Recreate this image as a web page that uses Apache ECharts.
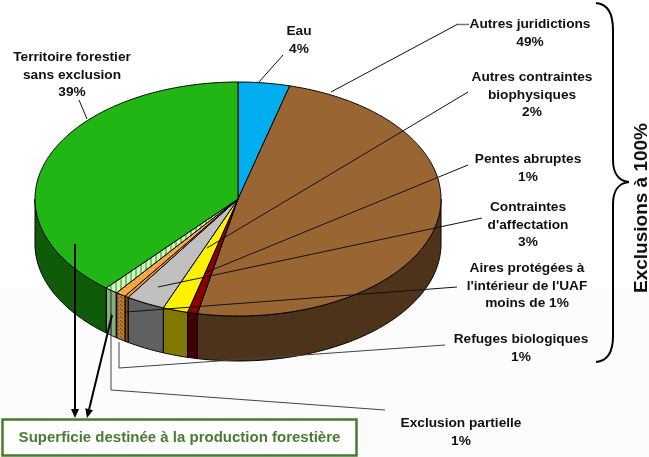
<!DOCTYPE html>
<html>
<head>
<meta charset="utf-8">
<script src="https://cdn.jsdelivr.net/npm/echarts@6/dist/echarts.min.js"></script>
<style>
  html, body { margin: 0; padding: 0; background: #fff; }
  #chart { width: 649px; height: 457px; }
</style>
</head>
<body>
<div id="chart"></div>
<script>
// slices run clockwise from 12 o'clock
var sliceNames = ['Eau', 'Autres juridictions', 'Pentes abruptes', 'Autres contraintes biophysiques',
  "Contraintes d'affectation", "Aires protégées à l'intérieur de l'UAF", 'Refuges biologiques',
  'Exclusion partielle', 'Territoire forestier sans exclusion'];
var sliceValues = [4.1, 49.1, 0.8, 2, 3.1, 0.3, 0.8, 1.05, 38.75];

var topColors = ['#00ADEF', '#996633', '#8B0000', '#FFF200', '#C0C0C0', '#FF9933', 'hatchTop', 'stripeTop', '#21B614'];
var sideColors = ['#005A7A', '#4D3319', '#450000', '#807900', '#606060', '#804C19', 'hatchSide', 'stripeSide', '#105B0A'];

var labelTexts = [
  'Eau\n4%',
  'Autres juridictions\n49%',
  'Autres contraintes\nbiophysiques\n2%',
  'Pentes abruptes\n1%',
  "Contraintes\nd'affectation\n3%",
  "Aires protégées à\nl'intérieur de l'UAF\nmoins de 1%",
  'Refuges biologiques\n1%',
  'Exclusion partielle\n1%',
  'Territoire forestier\nsans exclusion\n39%'
];
var labelCenters = [[299, 40], [530, 33], [532, 95], [528, 168], [528, 225], [527, 286], [521, 348], [461, 432], [72, 75]];

var leaderLines = [
  [[283, 55], [259, 82]],
  [[458, 24], [331, 92]],
  [[468, 92], [207, 248]],
  [[468, 165], [207, 272]],
  [[482, 218], [158, 287]],
  [[457, 287], [126, 312]],
  [[79, 100], [87, 119]]
];
var greyLines = [
  [[445, 345], [119, 368], [119, 342]],
  [[385, 410], [111, 390], [111, 313]]
];
var arrowLines = [[[75, 244], [75, 418]], [[112, 315], [87, 418]]];

var boxText = 'Superficie destinée à la production forestière';
var braceText = 'Exclusions à 100%';

var DEPTH = 45;

function makePattern(draw, w, h) {
  var c = document.createElement('canvas');
  c.width = w;
  c.height = h;
  draw(c.getContext('2d'));
  return { image: c, repeat: 'repeat' };
}

function stripes(a, b) {
  return makePattern(function (ctx) {
    ctx.fillStyle = a;
    ctx.fillRect(0, 0, 5, 4);
    ctx.fillStyle = b;
    ctx.fillRect(2, 0, 3, 4);
  }, 5, 4);
}

function hatch(bg, dot) {
  return makePattern(function (ctx) {
    ctx.fillStyle = bg;
    ctx.fillRect(0, 0, 4, 4);
    ctx.fillStyle = dot;
    ctx.fillRect(0, 0, 1, 1);
    ctx.fillRect(2, 2, 1, 1);
    ctx.fillRect(1, 1, 1, 1);
  }, 4, 4);
}

var patterns = {
  stripeTop: stripes('#6FCF5A', '#D8F2CC'),
  stripeSide: stripes('#3F7A3A', '#8FA98A'),
  hatchTop: hatch('#FF9F33', '#FFD08A'),
  hatchSide: hatch('#B97A33', '#6E4A22')
};

function fillOf(name) {
  return patterns[name] || name;
}

// cumulated start / end of every slice
var sliceData = [];
var total = 0;
var i;
for (i = 0; i < sliceValues.length; i++) {
  sliceData.push([total, total + sliceValues[i], sliceNames[i]]);
  total += sliceValues[i];
}

function arcPoints(api, from, to, dy) {
  var pts = [];
  var n = Math.max(2, Math.ceil((to - from) / 0.5));
  for (var k = 0; k <= n; k++) {
    var t = (from + (to - from) * k / n) * Math.PI / 180;
    var p = api.coord([Math.sin(t), Math.cos(t)]);
    pts.push([p[0], p[1] + dy]);
  }
  return pts;
}

function renderSlice(params, api) {
  var start = api.value(0) * 3.6;
  var end = api.value(1) * 3.6;
  var idx = params.dataIndex;
  var children = [];

  // wall only where the slice faces the viewer
  var a = Math.max(start, 90);
  var b = Math.min(end, 270);
  if (b > a) {
    var upper = arcPoints(api, a, b, 0);
    var lower = arcPoints(api, a, b, DEPTH).reverse();
    children.push({
      type: 'polygon',
      shape: { points: upper.concat(lower) },
      style: { fill: fillOf(sideColors[idx]), stroke: '#000', lineWidth: 1 }
    });
  }

  var top = [api.coord([0, 0])].concat(arcPoints(api, start, end, 0));
  children.push({
    type: 'polygon',
    shape: { points: top },
    style: { fill: fillOf(topColors[idx]), stroke: '#000', lineWidth: 1 }
  });
  return { type: 'group', children: children };
}

var elements = [];
elements.push({
  type: 'rect', z: -1, silent: true,
  shape: { x: 0, y: 288, width: 649, height: 169 },
  style: { fill: '#FCFCFC' }
});

leaderLines.forEach(function (pts) {
  elements.push({
    type: 'polyline', z: 5,
    shape: { points: pts },
    style: { fill: null, stroke: '#111', lineWidth: 1 }
  });
});
greyLines.forEach(function (pts) {
  elements.push({
    type: 'polyline', z: 5,
    shape: { points: pts },
    style: { fill: null, stroke: '#444', lineWidth: 1 }
  });
});
// short thick stub before "Autres juridictions"
elements.push({
  type: 'line', z: 5,
  shape: { x1: 458, y1: 24.5, x2: 469, y2: 24.5 },
  style: { stroke: '#777', lineWidth: 1.5 }
});

arrowLines.forEach(function (pts) {
  var p0 = pts[0], p1 = pts[1];
  var ang = Math.atan2(p1[1] - p0[1], p1[0] - p0[0]);
  var len = 9, wid = 4;
  var bx = p1[0] - len * Math.cos(ang), by = p1[1] - len * Math.sin(ang);
  elements.push({
    type: 'line', z: 6,
    shape: { x1: p0[0], y1: p0[1], x2: bx, y2: by },
    style: { stroke: '#000', lineWidth: 2 }
  });
  elements.push({
    type: 'polygon', z: 6,
    shape: { points: [p1,
      [bx - wid * Math.sin(ang), by + wid * Math.cos(ang)],
      [bx + wid * Math.sin(ang), by - wid * Math.cos(ang)]] },
    style: { fill: '#000' }
  });
});

labelTexts.forEach(function (txt, n) {
  elements.push({
    type: 'text', z: 7,
    x: labelCenters[n][0], y: labelCenters[n][1],
    style: {
      text: txt, align: 'center', verticalAlign: 'middle',
      font: 'bold 13.7px "Liberation Sans"', lineHeight: 17.5, fill: '#111'
    }
  });
});

// big curly brace
function braceCurve(x1, y1, c1x, c1y, c2x, c2y, x2, y2) {
  elements.push({
    type: 'bezierCurve', z: 5,
    shape: { x1: x1, y1: y1, cpx1: c1x, cpy1: c1y, cpx2: c2x, cpy2: c2y, x2: x2, y2: y2 },
    style: { fill: null, stroke: '#000', lineWidth: 2 }
  });
}
function braceLine(y1, y2) {
  elements.push({
    type: 'line', z: 5,
    shape: { x1: 613, y1: y1, x2: 613, y2: y2 },
    style: { stroke: '#000', lineWidth: 2 }
  });
}
braceCurve(596, 3, 608, 4, 613, 14, 613, 30);
braceLine(30, 160);
braceCurve(613, 160, 613, 172, 618, 181, 629, 182);
braceCurve(629, 182, 618, 183, 613, 192, 613, 204);
braceLine(204, 336);
braceCurve(613, 336, 613, 352, 608, 361, 596, 362);

elements.push({
  type: 'text', z: 7,
  x: 642, y: 208, rotation: Math.PI / 2,
  style: {
    text: braceText, align: 'center', verticalAlign: 'middle',
    font: 'bold 19px "Liberation Sans"', fill: '#111'
  }
});

// box at the bottom
elements.push({
  type: 'rect', z: 5,
  shape: { x: 2.5, y: 419.5, width: 354, height: 36 },
  style: { fill: '#fff', stroke: '#4A7A2E', lineWidth: 2.5 }
});
elements.push({
  type: 'text', z: 7,
  x: 179.5, y: 438,
  style: {
    text: boxText, align: 'center', verticalAlign: 'middle',
    font: 'bold 15px "Liberation Sans"', fill: '#4A7A33'
  }
});

var chart = echarts.init(document.getElementById('chart'), null, { renderer: 'canvas' });
chart.setOption({
  animation: false,
  backgroundColor: '#fff',
  // unit circle mapped onto the tilted ellipse of the top face
  grid: { left: 35, top: 82, width: 406, height: 234 },
  xAxis: { type: 'value', min: -1, max: 1, show: false },
  yAxis: { type: 'value', min: -1, max: 1, show: false },
  series: [{
    type: 'custom',
    coordinateSystem: 'cartesian2d',
    silent: true,
    clip: false,
    encode: { x: 0, y: 1 },
    data: sliceData,
    renderItem: renderSlice
  }],
  graphic: { elements: elements }
});
</script>
</body>
</html>
